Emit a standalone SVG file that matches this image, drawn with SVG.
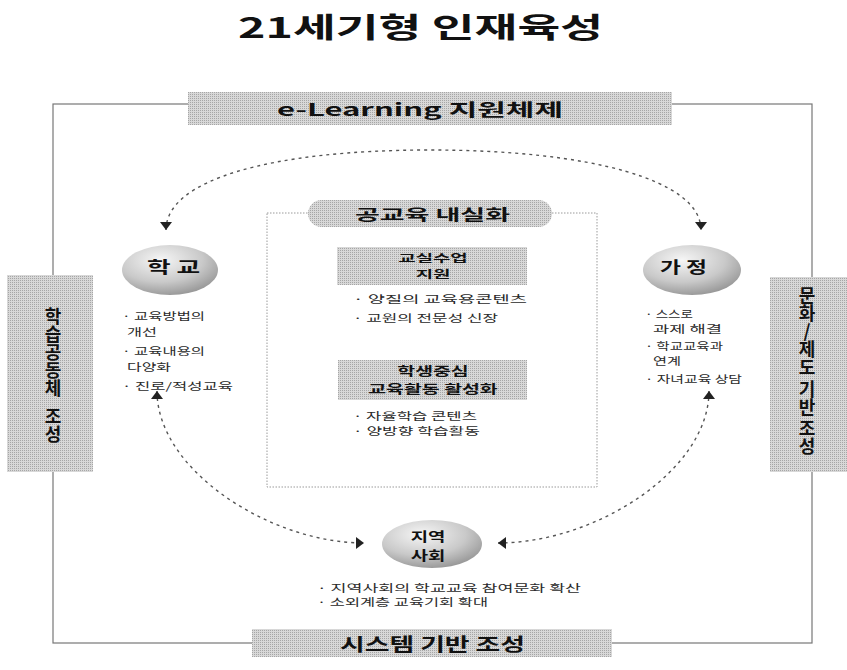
<svg xmlns="http://www.w3.org/2000/svg" width="847" height="670" viewBox="0 0 847 670">
<style>
text{font-family:"Noto Sans CJK KR","Noto Sans",sans-serif;dominant-baseline:central}
.h{font-weight:700;fill:#111}
.v{font-weight:700;fill:#111;writing-mode:vertical-rl;text-orientation:upright}
.b{font-size:10px;fill:#2a2a2a}
.band{fill:url(#dith)}
.frame{fill:none;stroke:#777;stroke-width:1.2}
.dl{fill:none;stroke:#9a9a9a;stroke-width:1;stroke-dasharray:1.5 1.5}
.arc{fill:none;stroke:#555;stroke-width:1.4;stroke-dasharray:3 4}
.ell{fill:url(#eg)}
</style>
<defs>
<radialGradient id="eg" cx="0.4" cy="0.3" r="0.8">
<stop offset="0" stop-color="#f6f6f6"/>
<stop offset="0.55" stop-color="#c9c9c9"/>
<stop offset="1" stop-color="#8a8a8a"/>
</radialGradient>
<pattern id="dith" width="2" height="2" patternUnits="userSpaceOnUse">
<rect width="2" height="2" fill="#d8d8d8"/>
<rect width="1" height="1" fill="#a6a6a6"/>
</pattern>
<marker id="ah" viewBox="0 0 8 12" refX="8" refY="6" markerWidth="8" markerHeight="12" markerUnits="userSpaceOnUse" orient="auto-start-reverse">
<path d="M0,0 L8,6 L0,12 z" fill="#222"/>
</marker>
</defs>

<rect width="847" height="670" fill="#fff"/>

<g id="title">
<text class="h" x="238" y="26" font-size="28" textLength="365" lengthAdjust="spacingAndGlyphs">21세기형 인재육성</text>
</g>

<g id="frame">
<rect class="frame" x="53" y="104" width="759" height="539"/>
</g>

<g id="band-top">
<rect class="band" x="188" y="92" width="484" height="33"/>
<text class="h" x="277" y="108" font-size="17" textLength="286" lengthAdjust="spacingAndGlyphs">e-Learning 지원체제</text>
</g>

<g id="band-bottom">
<rect class="band" x="252" y="629" width="360" height="28"/>
<text class="h" x="340" y="643" font-size="18" textLength="185" lengthAdjust="spacingAndGlyphs">시스템 기반 조성</text>
</g>

<g id="box-left">
<rect class="band" x="7" y="275" width="86" height="197"/>
<text class="v" x="53" y="307" font-size="18">학습공동체<tspan font-size="10"> </tspan>조성</text>
</g>

<g id="box-right">
<rect class="band" x="770" y="277" width="77" height="195"/>
<text class="v" x="807" y="286" font-size="18">문화/제도<tspan font-size="4"> </tspan>기반<tspan font-size="3"> </tspan>조성</text>
</g>

<g id="center">
<rect class="dl" x="267" y="213" width="330" height="274"/>
<rect class="band" x="308" y="200" width="244" height="27" rx="13.5"/>
<text class="h" x="355" y="213" font-size="15" textLength="155" lengthAdjust="spacingAndGlyphs">공교육 내실화</text>
</g>

<g id="class-support">
<rect class="band" x="337" y="247" width="190" height="38"/>
<text class="h" font-size="10.5" text-anchor="middle" transform="matrix(1.8,0,0,1,433,0)"><tspan x="0" y="257.5">교실수업</tspan><tspan x="0" y="273.5">지원</tspan></text>
<text class="b" x="353" y="298" textLength="174" lengthAdjust="spacingAndGlyphs">· 양질의 교육용콘텐츠</text>
<text class="b" x="353" y="317" textLength="145" lengthAdjust="spacingAndGlyphs">· 교원의 전문성 신장</text>
</g>

<g id="student-centered">
<rect class="band" x="338" y="360" width="189" height="40"/>
<text class="h" font-size="12" text-anchor="middle" transform="matrix(1.62,0,0,1,433,0)"><tspan x="0" y="371">학생중심</tspan><tspan x="0" y="389">교육활동 활성화</tspan></text>
<text class="b" x="353" y="415" textLength="124" lengthAdjust="spacingAndGlyphs">· 자율학습 콘텐츠</text>
<text class="b" x="353" y="430" textLength="127" lengthAdjust="spacingAndGlyphs">· 양방향 학습활동</text>
</g>

<g id="school">
<ellipse class="ell" cx="170" cy="270" rx="48" ry="25"/>
<text class="h" x="147" y="266" font-size="16" textLength="53" lengthAdjust="spacingAndGlyphs">학 교</text>
<text class="b" x="122" y="315" textLength="83" lengthAdjust="spacingAndGlyphs">· 교육방법의</text>
<text class="b" x="127" y="331" textLength="30" lengthAdjust="spacingAndGlyphs">개선</text>
<text class="b" x="122" y="350" textLength="83" lengthAdjust="spacingAndGlyphs">· 교육내용의</text>
<text class="b" x="127" y="366" textLength="44" lengthAdjust="spacingAndGlyphs">다양화</text>
<text class="b" x="122" y="385" textLength="111" lengthAdjust="spacingAndGlyphs">· 진로/적성교육</text>
</g>

<g id="home">
<ellipse class="ell" cx="692" cy="270" rx="49" ry="25"/>
<text class="h" x="660" y="266" font-size="16" textLength="47" lengthAdjust="spacingAndGlyphs">가 정</text>
<text class="b" x="645" y="313" textLength="48" lengthAdjust="spacingAndGlyphs">· 스스로</text>
<text class="b" x="653" y="328" textLength="69" lengthAdjust="spacingAndGlyphs">과제 해결</text>
<text class="b" x="645" y="345" textLength="78" lengthAdjust="spacingAndGlyphs">· 학교교육과</text>
<text class="b" x="653" y="360" textLength="28" lengthAdjust="spacingAndGlyphs">연계</text>
<text class="b" x="645" y="378" textLength="97" lengthAdjust="spacingAndGlyphs">· 자녀교육 상담</text>
</g>

<g id="community">
<ellipse class="ell" cx="432" cy="544" rx="50" ry="24"/>
<text class="h" font-size="13" text-anchor="middle" transform="matrix(1.45,0,0,1,428,0)"><tspan x="0" y="535">지역</tspan><tspan x="0" y="554">사회</tspan></text>
<text class="b" x="317" y="587" textLength="264" lengthAdjust="spacingAndGlyphs">· 지역사회의 학교교육 참여문화 확산</text>
<text class="b" x="317" y="601" textLength="171" lengthAdjust="spacingAndGlyphs">· 소외계층 교육기회 확대</text>
</g>

<g id="connectors">
<path class="arc" d="M166,230 C166,180 270,150 430,150 C590,150 701,180 701,230" marker-start="url(#ah)" marker-end="url(#ah)"/>
<path class="arc" d="M157,391 C157,470 270,543 364,543" marker-start="url(#ah)" marker-end="url(#ah)"/>
<path class="arc" d="M709,391 C709,470 596,543 498,543" marker-start="url(#ah)" marker-end="url(#ah)"/>
</g>
</svg>
